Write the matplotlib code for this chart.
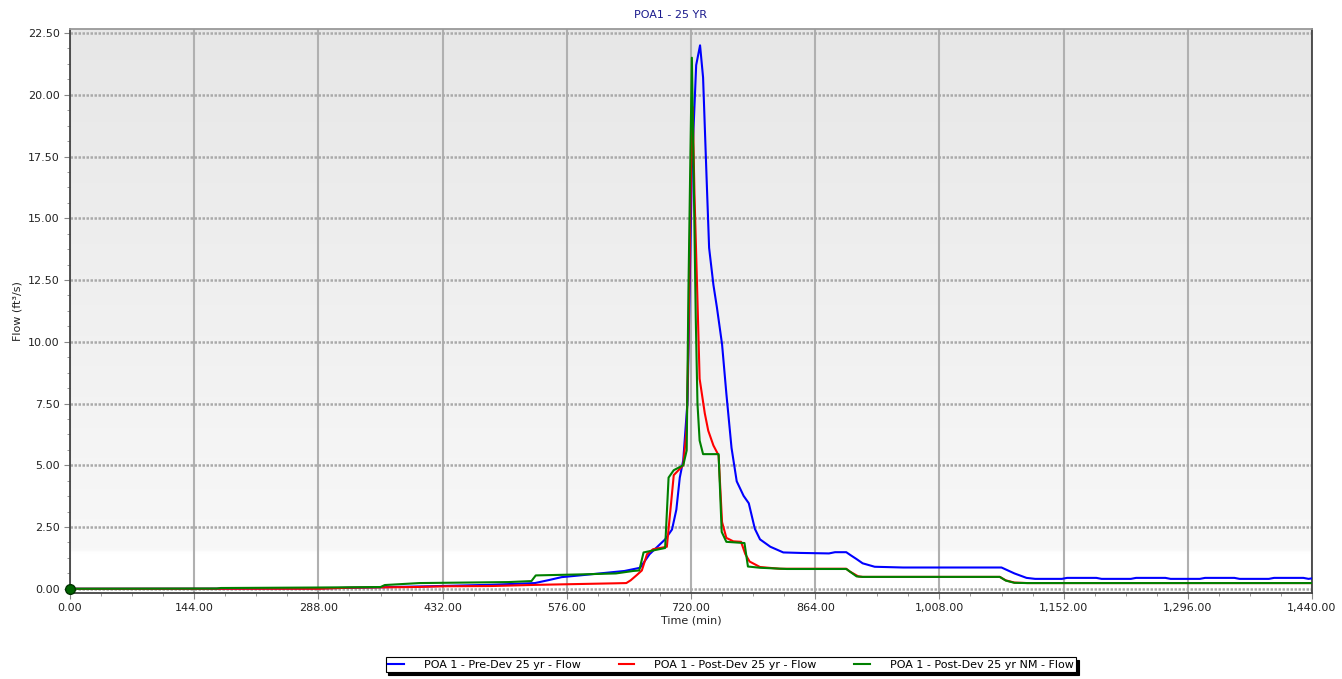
import numpy as np
import matplotlib
matplotlib.use('Agg')
import matplotlib.pyplot as plt
from matplotlib.ticker import MultipleLocator, FuncFormatter
from matplotlib.colors import LinearSegmentedColormap

# series (time in min, flow in ft3/s)
pre_t = [0, 150, 280, 312, 360, 415, 488, 539, 555, 570, 591, 643, 661, 672, 690, 698,
         703, 707, 711, 716, 721, 726, 730.5, 734, 738, 741, 746, 750, 756, 761, 767, 773,
         781, 787, 794, 800, 812, 827, 847, 880, 887, 900, 905, 912, 919, 933, 966, 1080,
         1095, 1109, 1119, 1150, 1156, 1190, 1196, 1230, 1236, 1270, 1276, 1310, 1316, 1350,
         1356, 1390, 1396, 1430, 1436, 1440]
pre_q = [0.0, 0.0, 0.01, 0.03, 0.06, 0.10, 0.16, 0.23, 0.35, 0.47, 0.54, 0.72, 0.85, 1.40,
         2.00, 2.40, 3.20, 4.50, 5.20, 7.60, 17.0, 21.2, 22.0, 20.7, 16.7, 13.8, 12.3, 11.4,
         9.9, 7.9, 5.7, 4.35, 3.76, 3.46, 2.43, 2.00, 1.70, 1.47, 1.45, 1.43, 1.48, 1.48,
         1.36, 1.20, 1.03, 0.89, 0.86, 0.86, 0.62, 0.44, 0.40, 0.40, 0.44, 0.44, 0.40, 0.40,
         0.44, 0.44, 0.40, 0.40, 0.44, 0.44, 0.40, 0.40, 0.44, 0.44, 0.40, 0.42]

post_t = [0, 290, 322, 400, 436, 488, 544, 632, 645, 650, 657, 663, 669, 676, 692, 697,
          700, 711, 715, 717, 720, 722, 724, 727, 730, 736, 740, 746, 752, 756, 761, 769,
          778, 783, 788, 800, 823, 900, 904, 914, 919, 1078, 1085, 1095, 1110, 1440]
post_q = [0.0, 0.0, 0.04, 0.07, 0.10, 0.11, 0.16, 0.22, 0.23, 0.34, 0.55, 0.74, 1.40, 1.60,
          1.70, 3.50, 4.60, 5.00, 6.50, 10.0, 17.0, 19.5, 16.0, 12.3, 8.5, 7.1, 6.4, 5.8,
          5.4, 2.7, 2.06, 1.92, 1.90, 1.40, 1.10, 0.88, 0.81, 0.81, 0.70, 0.50, 0.48, 0.48,
          0.34, 0.25, 0.23, 0.23]

nm_t = [0, 170, 175, 288, 360, 365, 405, 508, 535, 540, 591, 633, 653, 660, 665, 676, 690,
        694, 700, 711, 715, 717, 719.5, 721, 723, 725.5, 727.5, 730, 734, 752, 755.6, 761,
        782, 786, 800, 831, 900, 904, 912, 919, 1078, 1085, 1095, 1110, 1440]
nm_q = [0.0, 0.01, 0.03, 0.05, 0.07, 0.15, 0.23, 0.27, 0.31, 0.54, 0.58, 0.62, 0.72, 0.74,
        1.47, 1.55, 1.65, 4.50, 4.80, 5.00, 5.60, 12.0, 18.0, 21.5, 17.0, 11.0, 7.5, 6.0,
        5.45, 5.45, 2.30, 1.90, 1.85, 0.90, 0.85, 0.80, 0.80, 0.70, 0.50, 0.48, 0.48, 0.33,
        0.24, 0.23, 0.23]

labels = ['POA 1 - Pre-Dev 25 yr - Flow', 'POA 1 - Post-Dev 25 yr - Flow',
          'POA 1 - Post-Dev 25 yr NM - Flow']
colors = ['#0000ff', '#ff0000', '#008000']

plt.rcParams['font.family'] = ['DejaVu Sans']
fig = plt.figure(figsize=(13.42, 6.79), dpi=100)
ax = fig.add_axes([70 / 1342, 86.3 / 679, 1242 / 1342, 563.4 / 679])

# background gradient
cmap = LinearSegmentedColormap.from_list('bg', [(0, '#ffffff'), (0.07, '#ffffff'),
                                                (0.075, '#f8f8f8'), (1, '#e7e7e7')])
grad = np.linspace(0, 1, 256).reshape(-1, 1)
ax.imshow(grad, cmap=cmap, aspect='auto', extent=[0, 1, 0, 1], origin='lower',
          transform=ax.transAxes, zorder=0)

for t, q, c, lab in zip([pre_t, post_t, nm_t], [pre_q, post_q, nm_q], colors, labels):
    ax.plot(t, q, color=c, lw=1.5, label=lab, zorder=3)
ax.plot([0], [0], 'o', ms=7, color='#006400', mec='#003300', clip_on=False, zorder=5)

ax.set_xlim(0, 1440)
ax.set_ylim(-0.16, 22.65)
ax.xaxis.set_major_locator(MultipleLocator(144))
ax.xaxis.set_minor_locator(MultipleLocator(36))
ax.yaxis.set_major_locator(MultipleLocator(2.5))
ax.yaxis.set_minor_locator(MultipleLocator(0.625))
fmt = FuncFormatter(lambda v, p: '{:,.2f}'.format(v))
ax.xaxis.set_major_formatter(fmt)
ax.yaxis.set_major_formatter(fmt)
ax.tick_params(which='both', direction='out', color='#888888', labelsize=8,
               labelcolor='#222222')
ax.tick_params(which='major', length=4)
ax.tick_params(which='minor', length=2.5)

ax.grid(axis='x', which='major', color='#b0b0b0', lw=1.5, zorder=1)
ax.grid(axis='y', which='major', color='#aaaaaa', lw=1.8, ls=(0, (1, 0.6)), zorder=1)
ax.set_axisbelow(True)
for sp in ax.spines.values():
    sp.set_color('#444444')
    sp.set_linewidth(1.3)
ax.spines['top'].set_color('#999999')

ax.set_xlabel('Time (min)', fontsize=8, color='#222222', labelpad=2)
ax.set_ylabel('Flow (ft³/s)', fontsize=8, color='#222222', labelpad=4)
fig.text(0.5, 1 - 15 / 679, 'POA1 - 25 YR', ha='center', va='center', fontsize=8,
         color='#1a1a8c')

leg = fig.legend(loc='center', bbox_to_anchor=(731 / 1342, 14.5 / 679), ncol=3,
                 fontsize=8, frameon=True, fancybox=False,
                 shadow={'color': 'black', 'alpha': 1.0},
                 edgecolor='black', framealpha=1, handlelength=1.4, handletextpad=1.8,
                 columnspacing=3.4, borderpad=0.25)
leg.get_frame().set_linewidth(0.8)

fig.savefig('out.png', dpi=100)
